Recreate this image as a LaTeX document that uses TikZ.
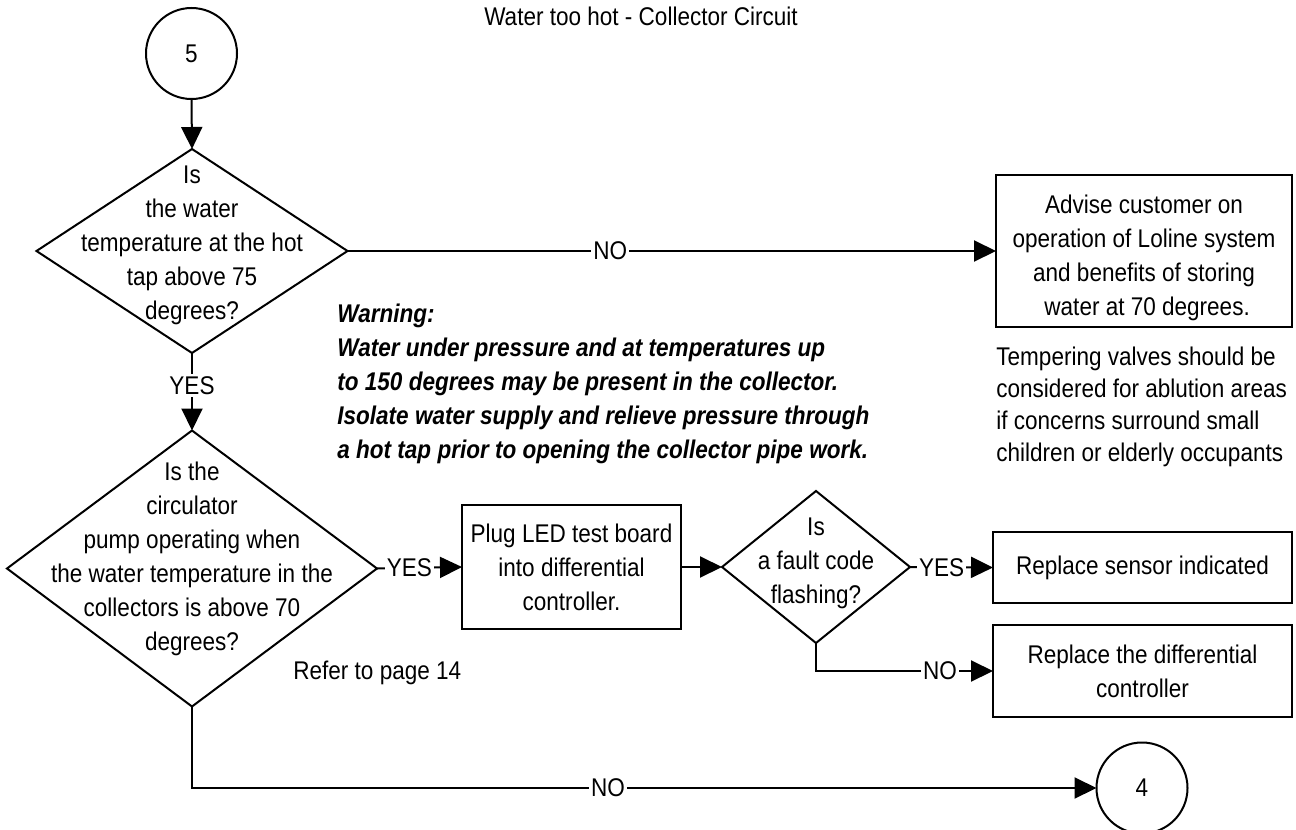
\documentclass[tikz,border=0pt]{standalone}
\usepackage{fontspec}
\setmainfont[FakeStretch=0.88]{Liberation Sans}
\usetikzlibrary{arrows.meta,shapes.geometric}
\begin{document}
\begin{tikzpicture}[x=0.5pt,y=-0.5pt,
  every node/.style={font=\fontsize{12.8}{17}\selectfont},
  dec/.style={draw, line width=1pt, shape=diamond, inner sep=0pt, outer sep=0pt},
  box/.style={draw, line width=1pt, rectangle, inner sep=0pt, outer sep=0pt, align=center},
  conn/.style={draw, circle, line width=1pt, minimum size=45.5pt, inner sep=0pt, outer sep=0pt},
  txt/.style={align=center, inner sep=0pt},
  note/.style={align=left, inner sep=0pt, anchor=west},
  lbl/.style={fill=white, inner sep=1pt},
  arr/.style={line width=1pt, -{Triangle[length=11pt,width=10.5pt]}},
  link/.style={line width=1pt}]
\useasboundingbox (0,0) rectangle (1296,830);

% title
\node[inner sep=0pt] (title) at (641,16) {Water too hot - Collector Circuit};

% connectors (entry and exit)
\node[conn] (c5) at (191.5,53.5) {5};
\node[conn] (c4) at (1142,788) {4};

% decisions
\node[dec, minimum width=155.5pt, minimum height=102pt] (q1) at (192,251) {};
\node[txt] (q1t) at (192,245) {Is\\the water\\temperature at the hot\\tap above 75\\degrees?};

\node[dec, minimum width=185pt, minimum height=138pt] (q2) at (192,568.5) {};
\node[txt] (q2t) at (192,559) {Is the\\circulator\\pump operating when\\the water temperature in the\\collectors is above 70\\degrees?};

\node[dec, minimum width=94pt, minimum height=76pt] (q3) at (816,567) {};
\node[txt] (q3t) at (816,563) {Is\\a fault code\\flashing?};

% actions
\node[box, minimum width=148pt, minimum height=76pt] (adv) at (1144,251) {};
\node[txt] (advt) at (1144,258)
  {Advise customer on\\operation of Loline system\\and benefits of storing\\\ water at 70 degrees.};
\node[box, minimum width=109.5pt, minimum height=62pt] (plug) at (571.5,567)
  {Plug LED test board\\into differential\\controller.};
\node[box, minimum width=149.5pt, minimum height=35.5pt] (sens) at (1142.5,567.5)
  {Replace sensor indicated};
\node[box, minimum width=149.5pt, minimum height=46pt] (diff) at (1142.5,671)
  {Replace the differential\\controller};

% notes
\node[note] (warn) at (337,384) {\bfseries\itshape Warning:\\\bfseries\itshape Water under pressure and at temperatures up\\\bfseries\itshape to 150 degrees may be present in the collector.\\\bfseries\itshape Isolate water supply and relieve pressure through\\\bfseries\itshape a hot tap prior to opening the collector pipe work.};
\node[note, font=\fontsize{12.8}{16}\selectfont] (temper) at (996,407) {Tempering valves should be\\considered for ablution areas\\if concerns surround small\\children or elderly occupants};
\node[note] (refer) at (293,673) {Refer to page 14};

% flow
\draw[arr] (c5.south) -- (q1.north);
\draw[arr] (q1.east) -- node[lbl, pos=0.405] {NO} (adv.west);
\draw[arr] (q1.south) -- node[lbl, pos=0.42] {YES} (q2.north);
\draw[arr] (q2.east) -- node[lbl, pos=0.38] {YES} (plug.west);
\draw[arr] (plug.east) -- (q3.west);
\draw[arr] (q3.east) -- node[lbl, pos=0.38] {YES} (sens.west);
\draw[arr] (q3.south) |- node[lbl, pos=0.85] {NO} (diff.west);
\draw[arr] (q2.south) |- node[lbl, pos=0.73] {NO} (c4.west);
\end{tikzpicture}
\end{document}
